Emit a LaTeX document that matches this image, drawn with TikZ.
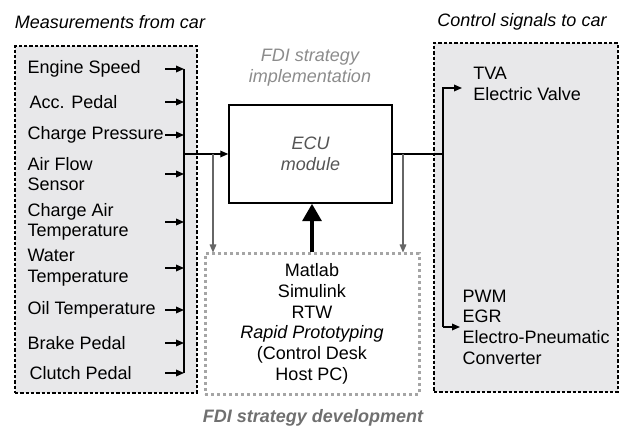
\documentclass[tikz,border=0pt]{standalone}
\usepackage{fontspec}
\setmainfont{Liberation Sans}
\usepackage{xcolor}
\usetikzlibrary{positioning,arrows.meta}

\definecolor{panelgray}{RGB}{232,232,234}
\definecolor{devgray}{RGB}{165,165,165}
\definecolor{labelgray}{RGB}{140,140,140}
\definecolor{titlegray}{RGB}{112,112,112}
\definecolor{ecutext}{RGB}{85,85,85}

\begin{document}
\begin{tikzpicture}[
        x=0.75pt, y=-0.75pt,
        font=\fontsize{13.5}{15.5}\selectfont,
        line width=0.9pt,
        >={Triangle[length=6pt,width=5pt]},
        panel/.style={draw, fill=panelgray, line width=1pt, dash pattern=on 2.5pt off 1.5pt},
        ecubox/.style={draw, fill=white, line width=1.1pt, align=center, text=ecutext, font=\fontsize{13.5}{15.5}\selectfont\itshape},
        devbox/.style={draw=devgray, fill=white, line width=2.25pt, dash pattern=on 2.25pt off 2.25pt, align=center},
        sensor/.style={anchor=west, align=left, inner sep=0pt},
        actuator/.style={anchor=west, align=left, inner ysep=0pt},
        title/.style={align=center, font=\fontsize{13.5}{15.5}\selectfont\itshape},
        tap/.style={draw=black!60, line width=0.8pt},
        bigarrow/.style={line width=3pt, -{Triangle[length=13pt,width=14pt]}}
    ]
    \useasboundingbox (0,0) rectangle (620,427);

    % Panels
    \node[panel, minimum width=136.5pt, minimum height=260.25pt] (meas) at (106,219.5) {};
    \node[panel, minimum width=138pt, minimum height=261.75pt] (ctrl) at (526,217.5) {};
    \node[ecubox, minimum width=122.25pt, minimum height=73.5pt] (ecu) at (310.5,154) {ECU\\module};
    \node[devbox, minimum width=160.5pt, minimum height=105pt] (dev) at (312,324)
        {Matlab\\Simulink\\RTW\\\textit{Rapid Prototyping}\\(Control Desk\\Host PC)};

    % Titles
    \node[title] (meastitle) at (110,22) {Measurements from car};
    \node[title] (ctrltitle) at (522,22) {Control signals to car};
    \node[title, text=labelgray] (impl) at (310,68) {FDI strategy\\implementation};
    \node[title, text=titlegray, font=\fontsize{13.5}{15.5}\selectfont\bfseries\itshape] (devtitle) at (313,418) {FDI strategy development};

    % Measurements
    \node[sensor] (speed)  at (27,69)  {Engine Speed};
    \node[sensor] (pedal)  at (29,102) {Acc. Pedal};
    \node[sensor] (boost)  at (27,135) {Charge Pressure};
    \node[sensor] (maf)    at (27,174) {Air Flow\\Sensor};
    \node[sensor] (iat)    at (27,222) {Charge Air\\Temperature};
    \node[sensor] (water)  at (27,268) {Water\\Temperature};
    \node[sensor] (oil)    at (27,310) {Oil Temperature};
    \node[sensor] (brake)  at (27,343) {Brake Pedal};
    \node[sensor] (clutch) at (29,373) {Clutch Pedal};

    % Control signals
    \node[actuator, inner xsep=8pt]   (tva) at (462,84)  {TVA\\Electric Valve};
    \node[actuator, inner xsep=1.5pt] (pwm) at (460,327) {PWM\\EGR\\Electro-Pneumatic\\Converter};

    % Bus lines
    \coordinate (tail) at (165,0);
    \coordinate (bus) at (184,0);
    \coordinate (tapl) at (213,0);
    \coordinate (tapr) at (403,0);
    \coordinate (outbus) at (443,0);
    \coordinate (tvain) at ([yshift=-3pt]tva.west);

    \foreach \s in {speed,pedal,boost,maf,iat,water,oil,brake,clutch}
        \draw[->] (tail |- \s.east) -- (bus |- \s.east);
    \draw (bus |- speed.east) -- (bus |- clutch.east);
    \draw[->] (bus |- ecu.west) -- (ecu.west);
    \draw[tap, ->] (tapl |- ecu.west) -- (tapl |- dev.north);

    \draw (ecu.east) -- (outbus |- ecu.east);
    \draw[tap, ->] (tapr |- ecu.east) -- (tapr |- dev.north);
    \draw[->] (outbus |- pwm.west) -- (outbus |- tvain) -- (tvain);
    \draw[->] (outbus |- pwm.west) -- (pwm.west);

    \draw[bigarrow] (dev.north) -- (dev.north |- ecu.south);
\end{tikzpicture}
\end{document}
